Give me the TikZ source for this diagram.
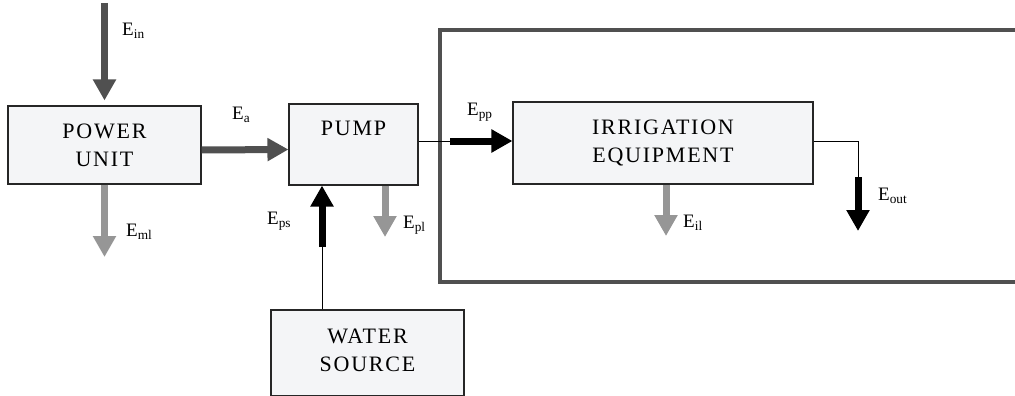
\documentclass[tikz,border=0pt]{standalone}
\usepackage{fontspec}
\setmainfont{Liberation Serif}
\newfontfamily\boxfont[LetterSpace=8]{Liberation Serif}
\usetikzlibrary{arrows.meta}
\definecolor{darkg}{RGB}{80,80,80}
\definecolor{lightg}{RGB}{150,150,150}
\definecolor{boxfill}{RGB}{244,245,247}
\definecolor{framec}{RGB}{80,80,80}
\newcommand\Elab[1]{E\textsubscript{#1}}
\begin{document}
\begin{tikzpicture}[x=1pt,y=-1pt,
  blk/.style={draw=black!85, line width=1.1pt, fill=boxfill, inner sep=0pt, align=center,
              font=\boxfont\fontsize{22}{28}\selectfont},
  blktext/.style={inner sep=0pt, font=\boxfont\fontsize{22}{28}\selectfont},
  fat/.style={line width=7pt, -{Triangle[length=21pt,width=22pt]}},
  thinl/.style={line width=1pt, draw=black},
  lab/.style={font=\fontsize{19}{19}\selectfont, inner sep=0pt, anchor=west}]
\useasboundingbox (0,0) rectangle (1015,396);
\fill[white] (0,0) rectangle (1015,396);

% frame around irrigation side
\node[draw=framec, line width=4pt, minimum width=590, minimum height=252, inner sep=0pt] (frame) at (735,156) {};

% blocks
\node[blk, minimum width=193, minimum height=78] (pu) at (104.5,145) {POWER\\UNIT};
\node[blk, minimum width=129, minimum height=81] (pump) at (353.5,144.5) {};
\node[blktext] (pumpt) at (353.5,128) {PUMP};
\node[blk, minimum width=300, minimum height=82] (irr) at (663,143) {IRRIGATION\\EQUIPMENT};
\node[blk, minimum width=193, minimum height=86, text depth=6pt] (ws) at (367.5,353) {WATER\\SOURCE};

% coordinates
\coordinate (inTop) at (104.5,3);
\coordinate (mlEnd) at (104.5,257);
\coordinate (psMid) at (322,247);
\coordinate (plEnd) at (385,237);
\coordinate (ppMid) at (450,141);
\coordinate (ilEnd) at (666,236);
\coordinate (outMid) at (858,177);
\coordinate (outEnd) at (858,231);

% arrows
\draw[fat, darkg, shorten >=5pt] (inTop) -- (pu.north);
\draw[fat, darkg] ([yshift=-5pt]pu.east) -- ([yshift=-5pt]pump.west);
\draw[fat, lightg] (pu.south) -- (mlEnd);
\draw[thinl] (ws.north -| psMid) -- (psMid);
\draw[fat, black] (psMid) -- (pump.south -| psMid);
\draw[fat, lightg] (pump.south -| plEnd) -- (plEnd);
\draw[thinl] (pump.east |- ppMid) -- (ppMid);
\draw[fat, black] (ppMid) -- (irr.west |- ppMid);
\draw[fat, lightg] (irr.south -| ilEnd) -- (ilEnd);
\draw[thinl] (irr.east |- ppMid) -| (outMid);
\draw[fat, black] (outMid) -- (outEnd);

% labels
\node[lab] (lin) at (122,31) {\Elab{in}};
\node[lab] (la) at (232,115) {\Elab{a}};
\node[lab] (lml) at (126,232) {\Elab{ml}};
\node[lab] (lps) at (267,221) {\Elab{ps}};
\node[lab] (lpl) at (403,225) {\Elab{pl}};
\node[lab] (lpp) at (467,112) {\Elab{pp}};
\node[lab] (lil) at (683,223) {\Elab{il}};
\node[lab] (lout) at (878,196) {\Elab{out}};
\end{tikzpicture}
\end{document}
